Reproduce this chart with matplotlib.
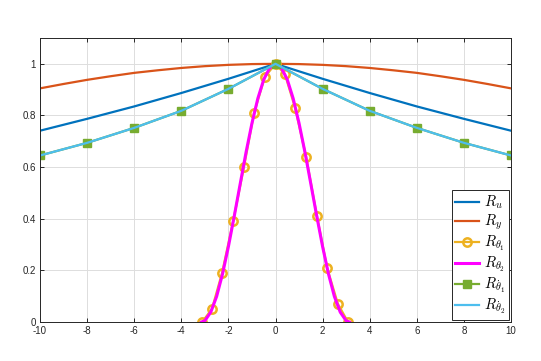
import numpy as np
import matplotlib.pyplot as plt

plt.rcParams['mathtext.fontset'] = 'cm'
plt.rcParams['axes.unicode_minus'] = False
plt.rcParams['font.family'] = ['Liberation Sans', 'DejaVu Sans']

# values
x_wide = [-10, -8, -6, -4, -2, 0, 2, 4, 6, 8, 10]
R_u = [0.741, 0.787, 0.835, 0.887, 0.942, 1.0, 0.942, 0.887, 0.835, 0.787, 0.741]
x_y = [-10, -9, -8, -7, -6, -5, -4, -3, -2, -1, 0, 1, 2, 3, 4, 5, 6, 7, 8, 9, 10]
R_y = [0.905, 0.922, 0.938, 0.952, 0.965, 0.975, 0.984, 0.991, 0.996, 0.999, 1.0,
       0.999, 0.996, 0.991, 0.984, 0.975, 0.965, 0.952, 0.938, 0.922, 0.905]
R_thd1 = [0.645, 0.694, 0.752, 0.818, 0.903, 1.0, 0.903, 0.818, 0.752, 0.694, 0.645]
R_thd2 = [0.645, 0.694, 0.752, 0.818, 0.903, 1.0, 0.903, 0.818, 0.752, 0.694, 0.645]

x_th1 = [-3.12, -2.70, -2.27, -1.80, -1.34, -0.91, -0.45, 0.0,
         0.40, 0.83, 1.30, 1.76, 2.19, 2.65, 3.08]
R_th1 = [0.0, 0.05, 0.19, 0.39, 0.60, 0.81, 0.95, 1.0,
         0.96, 0.83, 0.64, 0.41, 0.21, 0.07, 0.0]

x_th2 = [-3.14, -3.0, -2.75, -2.5, -2.25, -2.0, -1.75, -1.5, -1.25, -1.0, -0.75,
         -0.5, -0.25, 0.0, 0.25, 0.5, 0.75, 1.0, 1.25, 1.5, 1.75, 2.0, 2.25,
         2.5, 2.75, 3.0, 3.14]
R_th2 = [0.0, 0.005, 0.038, 0.099, 0.186, 0.292, 0.411, 0.535, 0.658, 0.770, 0.866,
         0.939, 0.984, 1.0, 0.984, 0.939, 0.866, 0.770, 0.658, 0.535, 0.411, 0.292,
         0.186, 0.099, 0.038, 0.005, 0.0]

fig = plt.figure(figsize=(5.41, 3.61), dpi=100)
ax = fig.add_axes([0.074, 0.108, 0.8705, 0.7867])

ax.plot(x_wide, R_u, color='#0072BD', lw=1.6, label=r'$R_u$')
ax.plot(x_y, R_y, color='#D95319', lw=1.6, label=r'$R_y$')
ax.plot(x_th1, R_th1, color='#EDB120', lw=1.6, marker='o', ms=6,
        mfc='none', mew=1.8, label=r'$R_{\theta_1}$')
ax.plot(x_th2, R_th2, color='#FF00FF', lw=2.2, label=r'$R_{\theta_2}$')
ax.plot(x_wide, R_thd1, color='#77AC30', lw=1.6, marker='s', ms=5.5,
        mfc='#77AC30', mew=1.0, label=r'$R_{\dot{\theta}_1}$')
ax.plot(x_wide, R_thd2, color='#4DBEEE', lw=1.6, label=r'$R_{\dot{\theta}_2}$')

ax.set_xlim(-10, 10)
ax.set_ylim(0, 1.1)
ax.set_xticks(np.arange(-10, 11, 2))
ax.set_yticks([0, 0.2, 0.4, 0.6, 0.8, 1.0])
ax.set_yticklabels(['0', '0.2', '0.4', '0.6', '0.8', '1'])
ax.grid(True, color='#dddddd', lw=0.7)
ax.set_axisbelow(True)
ax.tick_params(direction='in', top=True, right=True, labelsize=7,
               length=3, width=0.7, colors='#262626', pad=3)
for s in ax.spines.values():
    s.set_color('#262626')
    s.set_linewidth(0.7)

leg = ax.legend(loc='lower right', fontsize=10.5, frameon=True, fancybox=False,
                edgecolor='#262626', framealpha=1, handlelength=1.6,
                borderpad=0.25, labelspacing=0.12, handletextpad=0.35,
                borderaxespad=0.15)
leg.get_frame().set_linewidth(0.7)

fig.savefig('out.png', dpi=100)
